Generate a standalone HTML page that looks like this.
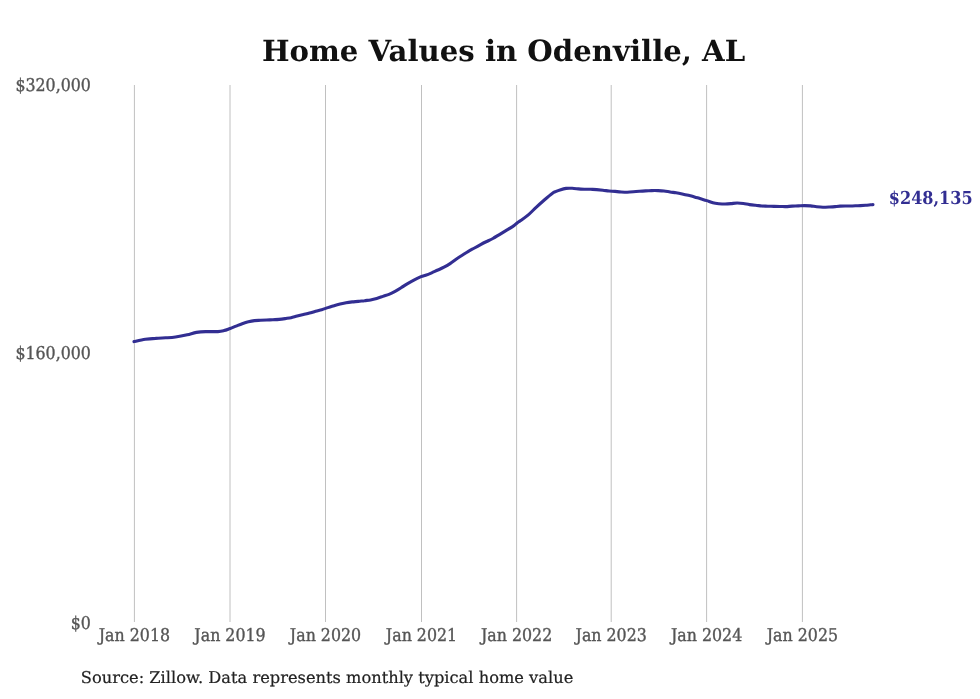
<!DOCTYPE html>
<html><head><meta charset="utf-8"><title>Home Values in Odenville, AL</title>
<style>
html,body{margin:0;padding:0;background:#fff;}
body{width:980px;height:699px;overflow:hidden;}
svg{display:block;will-change:transform;}
text{text-rendering:geometricPrecision;}
.t{font-family:"DejaVu Serif","Liberation Serif",serif;font-weight:bold;font-size:29.2px;fill:#111;}
.lab{font-family:"DejaVu Serif","Liberation Serif",serif;font-stretch:condensed;font-size:17.6px;fill:#555;stroke:#555;stroke-width:0.35px;}
.src{font-family:"DejaVu Serif","Liberation Serif",serif;font-size:16.25px;fill:#222;stroke:#222;stroke-width:0.2px;}
.end{font-family:"DejaVu Serif","Liberation Serif",serif;font-stretch:condensed;font-weight:bold;font-size:17.85px;fill:#322e92;}
</style></head>
<body>
<svg width="980" height="699" viewBox="0 0 980 699">
<rect width="980" height="699" fill="#fff"/>
<text class="t" x="503.6" y="60.5" text-anchor="middle">Home Values in Odenville, AL</text>
<g stroke="#c0c0c0" stroke-width="1">
<line x1="134.4" y1="85" x2="134.4" y2="622"/>
<line x1="230.0" y1="85" x2="230.0" y2="622"/>
<line x1="325.5" y1="85" x2="325.5" y2="622"/>
<line x1="421.5" y1="85" x2="421.5" y2="622"/>
<line x1="516.6" y1="85" x2="516.6" y2="622"/>
<line x1="611.2" y1="85" x2="611.2" y2="622"/>
<line x1="706.6" y1="85" x2="706.6" y2="622"/>
<line x1="802.4" y1="85" x2="802.4" y2="622"/>
</g>
<g class="lab" text-anchor="end">
<text x="90.9" y="91">$320,000</text>
<text x="90.9" y="359">$160,000</text>
<text x="90.9" y="629">$0</text>
</g>
<g class="lab" text-anchor="middle">
<text x="134.4" y="641">Jan 2018</text>
<text x="230.0" y="641">Jan 2019</text>
<text x="325.5" y="641">Jan 2020</text>
<text x="421.5" y="641">Jan 2021</text>
<text x="516.6" y="641">Jan 2022</text>
<text x="611.2" y="641">Jan 2023</text>
<text x="706.6" y="641">Jan 2024</text>
<text x="802.4" y="641">Jan 2025</text>
</g>
<path d="M134.0,341.6 C135.9,341.2 141.7,339.8 145.3,339.3 C148.9,338.8 152.1,338.6 155.5,338.4 C158.9,338.1 162.4,338.0 165.7,337.8 C169.0,337.6 171.9,337.5 175.5,337.0 C179.1,336.5 183.7,335.6 187.2,334.8 C190.7,334.0 193.3,332.9 196.4,332.4 C199.5,331.9 202.0,331.7 205.6,331.6 C209.2,331.5 214.8,331.8 217.9,331.6 C221.0,331.4 222.0,331.1 224.0,330.6 C226.0,330.1 228.1,329.2 230.1,328.5 C232.1,327.8 234.1,326.9 236.1,326.1 C238.1,325.3 240.1,324.4 242.2,323.7 C244.2,323.0 246.3,322.3 248.4,321.8 C250.5,321.3 252.5,320.9 254.5,320.6 C256.5,320.4 258.6,320.4 260.6,320.3 C262.6,320.2 264.6,320.1 266.7,320.0 C268.8,319.9 270.8,319.8 272.9,319.7 C274.9,319.6 277.0,319.6 279.0,319.4 C281.0,319.2 283.1,318.9 285.1,318.6 C287.1,318.3 289.1,318.1 291.1,317.7 C293.1,317.3 295.1,316.6 297.2,316.1 C299.2,315.6 301.3,315.1 303.4,314.6 C305.4,314.1 307.5,313.7 309.5,313.1 C311.5,312.5 313.6,311.8 315.6,311.2 C317.6,310.6 319.6,310.3 321.7,309.7 C323.8,309.1 325.8,308.3 327.9,307.6 C329.9,306.9 332.0,306.3 334.0,305.7 C336.0,305.1 338.1,304.5 340.1,304.0 C342.1,303.5 344.1,303.1 346.1,302.7 C348.1,302.3 350.1,302.1 352.2,301.9 C354.2,301.7 356.3,301.6 358.4,301.4 C360.4,301.2 362.5,300.9 364.5,300.7 C366.5,300.4 368.6,300.3 370.6,299.9 C372.6,299.5 374.6,299.0 376.7,298.4 C378.8,297.8 380.8,297.1 382.9,296.4 C384.9,295.7 387.0,295.2 389.0,294.4 C391.0,293.6 393.1,292.5 395.1,291.4 C397.1,290.3 399.1,289.1 401.1,287.8 C403.1,286.5 405.1,285.0 407.2,283.8 C409.2,282.6 411.1,281.6 413.4,280.4 C415.7,279.2 419.0,277.6 421.0,276.7 C423.0,275.8 423.8,275.8 425.6,275.2 C427.4,274.6 429.6,273.7 431.7,272.8 C433.8,271.9 435.8,270.9 437.9,270.0 C439.9,269.1 442.0,268.3 444.0,267.2 C446.0,266.1 448.1,264.9 450.1,263.6 C452.1,262.3 454.1,260.7 456.1,259.3 C458.1,257.9 460.1,256.6 462.2,255.3 C464.2,254.0 466.3,252.5 468.4,251.3 C470.4,250.1 472.5,249.1 474.5,248.0 C476.5,246.9 478.6,245.7 480.6,244.6 C482.6,243.5 484.6,242.5 486.7,241.5 C488.8,240.5 490.8,239.6 492.9,238.5 C494.9,237.4 497.0,236.0 499.0,234.8 C501.0,233.6 502.8,232.5 505.1,231.1 C507.4,229.7 510.9,227.7 512.9,226.4 C514.8,225.1 515.5,224.2 516.8,223.2 C518.1,222.2 518.7,221.9 520.7,220.5 C522.7,219.1 526.0,216.8 528.6,214.6 C531.2,212.4 533.8,209.5 536.4,207.1 C539.0,204.7 541.7,202.3 544.3,200.0 C546.9,197.7 550.2,194.8 552.2,193.4 C554.2,192.0 554.8,192.0 556.1,191.4 C557.4,190.8 558.3,190.4 560.0,189.9 C561.7,189.4 564.1,188.7 566.1,188.4 C568.1,188.1 570.2,188.2 572.2,188.3 C574.2,188.4 576.4,188.7 578.4,188.9 C580.4,189.1 582.5,189.2 584.5,189.3 C586.5,189.4 588.6,189.2 590.6,189.3 C592.6,189.4 594.7,189.4 596.7,189.6 C598.8,189.8 600.9,190.0 602.9,190.2 C604.9,190.4 607.0,190.8 609.0,191.0 C611.0,191.2 613.1,191.2 615.1,191.4 C617.1,191.6 619.1,191.9 621.1,192.0 C623.1,192.1 625.2,192.2 627.2,192.2 C629.2,192.2 631.4,192.0 633.4,191.8 C635.4,191.7 637.5,191.5 639.5,191.3 C641.5,191.2 643.6,191.0 645.6,190.9 C647.6,190.8 649.7,190.7 651.7,190.6 C653.8,190.5 655.9,190.5 657.9,190.6 C659.9,190.7 662.0,190.8 664.0,191.0 C666.0,191.2 668.1,191.7 670.1,192.0 C672.1,192.3 674.1,192.5 676.1,192.8 C678.1,193.1 680.2,193.5 682.2,193.9 C684.2,194.3 686.4,194.8 688.4,195.3 C690.4,195.8 692.5,196.3 694.5,196.9 C696.5,197.5 698.6,198.2 700.6,198.8 C702.6,199.4 704.7,199.9 706.7,200.6 C708.8,201.3 710.9,202.3 712.9,202.8 C714.9,203.3 717.0,203.5 719.0,203.7 C721.0,203.9 723.1,204.0 725.1,204.0 C727.1,204.0 729.1,203.8 731.1,203.6 C733.1,203.4 735.2,203.0 737.2,203.0 C739.2,203.0 741.4,203.2 743.4,203.5 C745.4,203.8 747.5,204.3 749.5,204.6 C751.5,204.9 753.6,205.1 755.6,205.3 C757.6,205.5 759.7,205.8 761.7,206.0 C763.8,206.2 765.9,206.1 767.9,206.2 C769.9,206.3 772.0,206.3 774.0,206.4 C776.0,206.5 778.1,206.5 780.1,206.5 C782.1,206.5 784.1,206.7 786.1,206.6 C788.1,206.5 790.2,206.2 792.2,206.1 C794.2,206.0 796.4,206.0 798.4,205.9 C800.4,205.8 802.5,205.6 804.5,205.6 C806.5,205.6 808.6,205.7 810.6,205.9 C812.6,206.1 814.7,206.5 816.7,206.7 C818.8,206.9 820.9,207.1 822.9,207.2 C824.9,207.2 827.0,207.1 829.0,207.0 C831.0,206.9 833.2,206.8 835.1,206.6 C837.0,206.4 838.4,206.2 840.1,206.1 C841.8,206.0 843.5,206.0 845.2,206.0 C846.9,206.0 848.6,206.0 850.3,206.0 C852.0,206.0 853.7,205.9 855.4,205.8 C857.1,205.7 858.8,205.7 860.5,205.6 C862.2,205.5 863.9,205.4 865.6,205.3 C867.3,205.2 869.5,204.9 870.7,204.8 C871.9,204.7 872.6,204.6 873.0,204.6" fill="none" stroke="#322e92" stroke-width="3.1" stroke-linejoin="round" stroke-linecap="round"/>
<text class="end" x="888.8" y="204">$248,135</text>
<text class="src" x="80.8" y="683">Source: Zillow. Data represents monthly typical home value</text>
</svg>
</body></html>
